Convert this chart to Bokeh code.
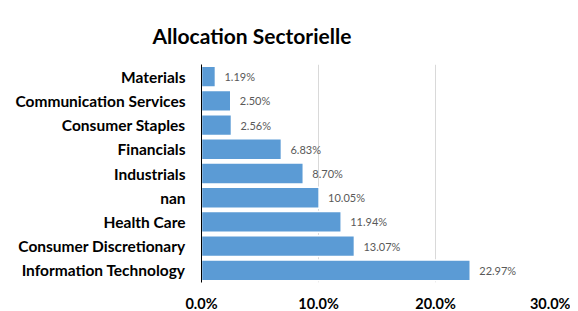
from bokeh.plotting import figure
from bokeh.models import FactorRange, Range1d, FixedTicker, NumeralTickFormatter, ColumnDataSource, Title
from bokeh.embed import file_html
from bokeh.resources import INLINE
from bokeh.core.properties import value

# Data (top to bottom as shown)
sectors = ["Materials", "Communication Services", "Consumer Staples", "Financials",
           "Industrials", "nan", "Health Care", "Consumer Discretionary", "Information Technology"]
weights = [0.0119, 0.0250, 0.0256, 0.0683, 0.0870, 0.1005, 0.1194, 0.1307, 0.2297]
x_ticks = [0.0, 0.1, 0.2, 0.3]
title_text = "Allocation Sectorielle"

labels = ["{:.2f}%".format(w * 100) for w in weights]
src = ColumnDataSource(dict(sector=sectors, w=weights, lab=labels))

FONT = "Lato"

p = figure(frame_width=351, frame_height=218, output_backend="svg", toolbar_location=None,
           y_range=FactorRange(factors=list(reversed(sectors))),
           x_range=Range1d(0, 0.30),
           min_border_left=201, min_border_right=18, min_border_top=64, min_border_bottom=21)
p.title = Title(text=title_text, text_font=FONT, text_font_size="21px", text_font_style="bold",
                text_color="#000000", align="left", offset=-49, standoff=33)
p.outline_line_color = None
p.background_fill_color = "white"
p.border_fill_color = "white"

p.hbar(y="sector", right="w", left=0, height=0.86, source=src,
       fill_color="#5B9BD5", line_color="white", line_width=1.5)
p.text(x="w", y="sector", text="lab", source=src, x_offset=9,
       text_font=value(FONT), text_font_size="11px", text_color="#595959",
       text_baseline="middle", text_align="left")

# x axis
p.xaxis.ticker = FixedTicker(ticks=x_ticks)
p.xaxis.formatter = NumeralTickFormatter(format="0.0%")
p.xaxis.axis_line_color = None
p.xaxis.major_tick_line_color = None
p.xaxis.minor_tick_line_color = None
p.xaxis.major_tick_out = 0
p.xaxis.major_label_text_font = FONT
p.xaxis.major_label_text_font_size = "14.5px"
p.xaxis.major_label_text_font_style = "bold"
p.xaxis.major_label_text_color = "#000000"
p.xaxis.major_label_standoff = 12

# y axis
p.yaxis.axis_line_color = "#000000"
p.yaxis.axis_line_width = 1
p.yaxis.major_tick_line_color = None
p.yaxis.minor_tick_line_color = None
p.yaxis.major_label_text_font = FONT
p.yaxis.major_label_text_font_size = "15.5px"
p.yaxis.major_label_text_font_style = "bold"
p.yaxis.major_label_text_color = "#000000"
p.yaxis.major_label_standoff = 10

p.ygrid.grid_line_color = None
p.xgrid.grid_line_color = "#D9D9D9"
p.xgrid.ticker = FixedTicker(ticks=[0.1, 0.2, 0.3])

open("out.html", "w").write(file_html(p, INLINE))
